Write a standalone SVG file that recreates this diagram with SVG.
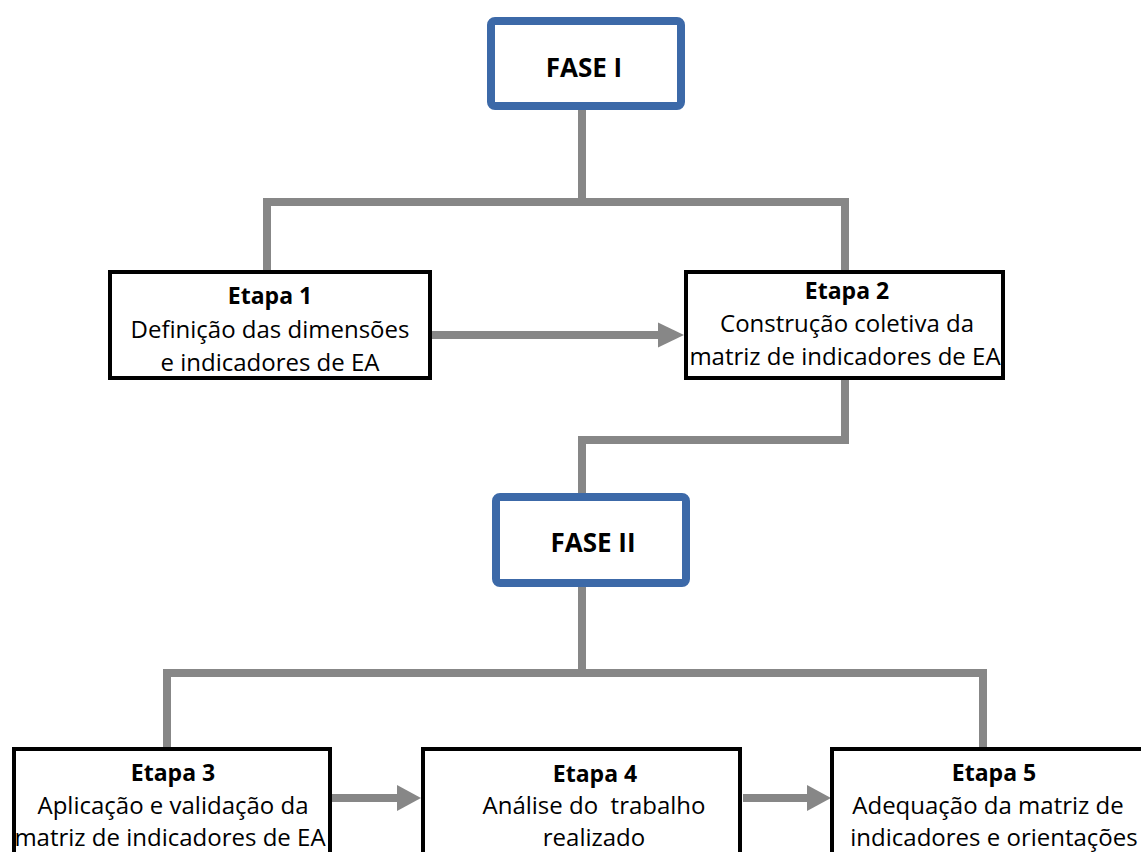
<svg xmlns="http://www.w3.org/2000/svg" width="1141" height="852" viewBox="0 0 1141 852">
<style>
.bg{fill:#ffffff}
.fase{fill:#ffffff;stroke:#3C69A8;stroke-width:8}
.etapa{fill:#ffffff;stroke:#000000;stroke-width:4}
.conn{fill:none;stroke:#878787;stroke-width:8}
.head{fill:#878787}
.ft{font-family:"Open Sans","Liberation Sans",sans-serif;font-weight:bold;font-size:26px;fill:#000;text-anchor:middle}
.tb{font-family:"Open Sans","Liberation Sans",sans-serif;font-weight:bold;font-size:23px;fill:#000;text-anchor:middle}
.t{font-family:"Open Sans","Liberation Sans",sans-serif;font-size:24px;fill:#000;text-anchor:middle}
</style>
<rect class="bg" x="0" y="0" width="1141" height="852"/>
<g id="connectors">
<path class="conn" d="M582 110 V202"/>
<path class="conn" d="M267 270 V202 H845 V270"/>
<path class="conn" d="M845 380 V440 H582 V493"/>
<path class="conn" d="M582 587 V673"/>
<path class="conn" d="M167 747 V673 H983 V747"/>
<path class="conn" d="M432 335 H659"/>
<polygon class="head" points="658,322.5 684,335 658,347.5"/>
<path class="conn" d="M332 798 H398"/>
<polygon class="head" points="397,785 421,798 397,811"/>
<path class="conn" d="M743 798 H808"/>
<polygon class="head" points="807,785 831,798 807,811"/>
</g>
<g id="fase1">
<rect class="fase" x="491" y="21" width="190" height="85" rx="4"/>
<text class="ft" x="584" y="77">FASE I</text>
</g>
<g id="etapa1">
<rect class="etapa" x="110" y="272" width="320" height="106"/>
<text class="tb" x="270" y="304">Etapa 1</text>
<text class="t" x="270" y="338">Definição das dimensões</text>
<text class="t" x="270" y="371">e indicadores de EA</text>
</g>
<g id="etapa2">
<rect class="etapa" x="686" y="272" width="317" height="106"/>
<text class="tb" x="847" y="299">Etapa 2</text>
<text class="t" x="847" y="332">Construção coletiva da</text>
<text class="t" x="845" y="365">matriz de indicadores de EA</text>
</g>
<g id="fase2">
<rect class="fase" x="496" y="497" width="190" height="86" rx="4"/>
<text class="ft" x="593" y="552">FASE II</text>
</g>
<g id="etapa3">
<rect class="etapa" x="14" y="749" width="316" height="150"/>
<text class="tb" x="173" y="781">Etapa 3</text>
<text class="t" x="173" y="814">Aplicação e validação da</text>
<text class="t" x="170" y="846">matriz de indicadores de EA</text>
</g>
<g id="etapa4">
<rect class="etapa" x="423" y="749" width="317" height="150"/>
<text class="tb" x="595" y="782">Etapa 4</text>
<text class="t" x="594" y="814" xml:space="preserve">Análise do  trabalho</text>
<text class="t" x="594" y="846">realizado</text>
</g>
<g id="etapa5">
<rect class="etapa" x="832" y="749" width="320" height="150"/>
<text class="tb" x="994" y="781">Etapa 5</text>
<text class="t" x="988" y="814">Adequação da matriz de</text>
<text class="t" x="994" y="846">indicadores e orientações</text>
</g>
</svg>
